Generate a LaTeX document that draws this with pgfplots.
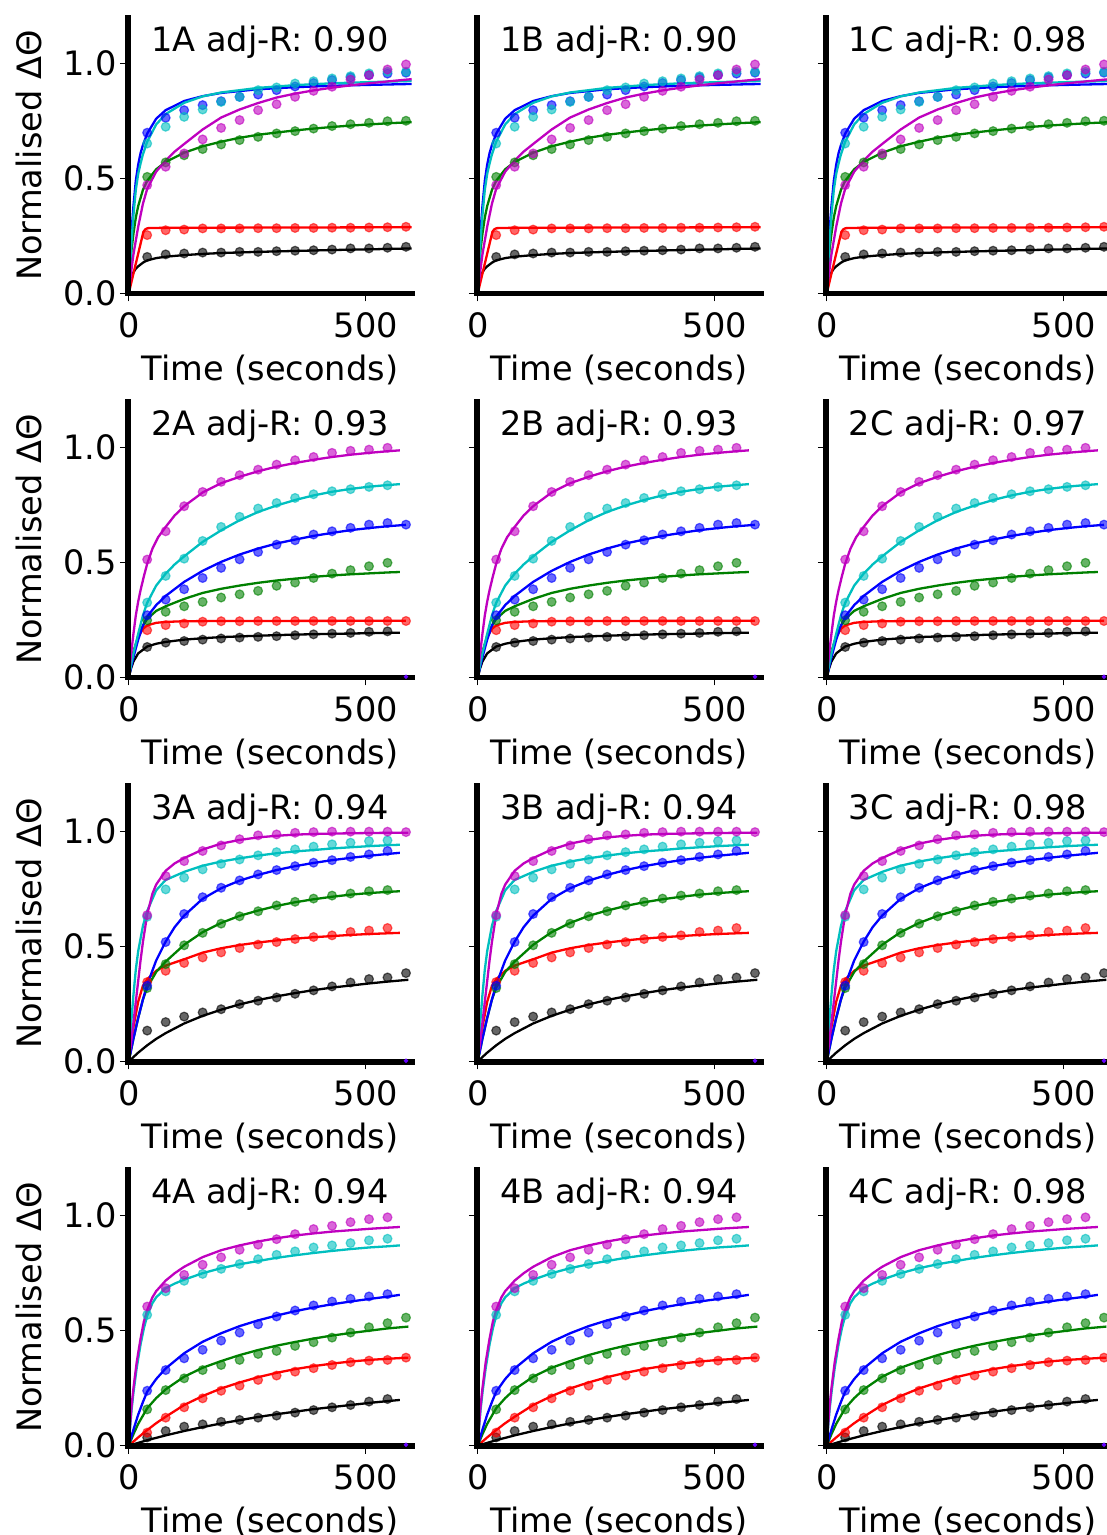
\documentclass[border=0pt]{standalone}
\usepackage{fontspec}
\setmainfont{DejaVu Sans}
\usepackage{pgfplots}
\pgfplotsset{compat=1.18}
\definecolor{mm}{rgb}{0.75,0,0.75}
\definecolor{mc}{rgb}{0,0.75,0.75}
\definecolor{mg}{rgb}{0,0.5,0}
\definecolor{mb}{rgb}{0,0,1}
\definecolor{mr}{rgb}{1,0,0}
\definecolor{mk}{rgb}{0,0,0}
\newcommand\dotset[2]{\addplot[only marks, mark=*, mark size=2.2pt, color=#1, mark options={fill=#1, draw=#1, opacity=0.6, line width=0.6pt}] coordinates {#2};}
\newcommand\fitline[2]{\addplot[color=#1, line width=1.15pt, mark=none] coordinates {#2};}
\newcommand\tinydot{\addplot[only marks, mark=*, mark size=0.9pt, color=blue!60!magenta] coordinates {(585,0.004)};}

% ---------------- Row 1 ----------------
\newcommand\rowOne{%
\dotset{mk}{(39,0.159)(78,0.170)(117,0.174)(156,0.178)(195,0.178)(234,0.181)(273,0.181)(312,0.184)(351,0.186)(390,0.188)(429,0.191)(468,0.196)(507,0.196)(546,0.199)(585,0.203)}
\dotset{mr}{(39,0.254)(78,0.275)(117,0.278)(156,0.283)(195,0.283)(234,0.283)(273,0.284)(312,0.284)(351,0.285)(390,0.285)(429,0.286)(468,0.286)(507,0.287)(546,0.288)(585,0.290)}
\dotset{mg}{(39,0.507)(78,0.570)(117,0.601)(156,0.628)(195,0.648)(234,0.667)(273,0.681)(312,0.696)(351,0.706)(390,0.717)(429,0.728)(468,0.736)(507,0.742)(546,0.749)(585,0.751)}
\dotset{mb}{(39,0.699)(78,0.764)(117,0.797)(156,0.819)(195,0.836)(234,0.855)(273,0.865)(312,0.884)(351,0.900)(390,0.915)(429,0.928)(468,0.940)(507,0.950)(546,0.956)(585,0.960)}
\dotset{mc}{(39,0.652)(78,0.725)(117,0.768)(156,0.800)(195,0.833)(234,0.855)(273,0.884)(312,0.896)(351,0.913)(390,0.923)(429,0.935)(468,0.945)(507,0.957)(546,0.964)(585,0.964)}
\dotset{mm}{(39,0.471)(78,0.551)(117,0.609)(156,0.670)(195,0.720)(234,0.754)(273,0.797)(312,0.823)(351,0.855)(390,0.881)(429,0.899)(468,0.930)(507,0.949)(546,0.974)(585,0.996)}
\fitline{mk}{(0,0)(3,0.04)(6,0.07)(10,0.092)(15,0.108)(20,0.118)(30,0.134)(39,0.144)(58,0.154)(78,0.160)(117,0.167)(156,0.172)(195,0.176)(273,0.181)(351,0.185)(429,0.189)(507,0.192)(597,0.196)}
\fitline{mr}{(0,0)(31,0.268)(35,0.279)(40,0.284)(50,0.285)(117,0.286)(351,0.287)(597,0.288)}
\fitline{mg}{(0,0)(3,0.11)(6,0.19)(10,0.26)(15,0.33)(20,0.38)(30,0.45)(39,0.49)(58,0.54)(78,0.572)(117,0.612)(156,0.64)(195,0.66)(234,0.677)(273,0.69)(312,0.70)(351,0.709)(390,0.717)(429,0.724)(468,0.73)(507,0.735)(546,0.74)(597,0.745)}
\fitline{mb}{(0,0)(3,0.15)(6,0.27)(10,0.38)(15,0.49)(20,0.56)(25,0.61)(30,0.645)(39,0.695)(58,0.76)(78,0.797)(117,0.837)(156,0.858)(195,0.872)(273,0.888)(351,0.897)(429,0.903)(507,0.907)(597,0.911)}
\fitline{mc}{(0,0)(3,0.12)(6,0.23)(10,0.34)(15,0.45)(20,0.52)(25,0.565)(30,0.605)(39,0.66)(58,0.735)(78,0.78)(117,0.829)(156,0.857)(195,0.874)(273,0.894)(351,0.906)(429,0.914)(507,0.919)(597,0.924)}
\fitline{mm}{(0,0)(5,0.09)(10,0.17)(20,0.29)(30,0.39)(39,0.455)(58,0.53)(78,0.578)(97,0.617)(117,0.65)(156,0.713)(195,0.765)(234,0.80)(273,0.828)(312,0.852)(351,0.869)(390,0.883)(429,0.895)(468,0.905)(507,0.914)(546,0.922)(597,0.932)}
}

% ---------------- Row 2 ----------------
\newcommand\rowTwo{%
\dotset{mk}{(39,0.133)(78,0.152)(117,0.159)(156,0.165)(195,0.170)(234,0.174)(273,0.177)(312,0.180)(351,0.184)(390,0.188)(429,0.191)(468,0.194)(507,0.199)(546,0.201)}
\dotset{mr}{(39,0.206)(78,0.228)(117,0.235)(156,0.243)(195,0.245)(234,0.245)(273,0.246)(312,0.246)(351,0.246)(390,0.246)(429,0.246)(468,0.246)(507,0.246)(546,0.246)(585,0.246)}
\dotset{mg}{(39,0.249)(78,0.286)(117,0.310)(156,0.329)(195,0.348)(234,0.362)(273,0.377)(312,0.399)(351,0.413)(390,0.433)(429,0.452)(468,0.467)(507,0.484)(546,0.499)}
\dotset{mb}{(39,0.271)(78,0.339)(117,0.384)(156,0.433)(195,0.477)(234,0.514)(273,0.546)(312,0.578)(351,0.597)(390,0.622)(429,0.636)(468,0.651)(507,0.665)(546,0.672)(585,0.665)}
\dotset{mc}{(39,0.326)(78,0.442)(117,0.517)(156,0.594)(195,0.655)(234,0.699)(273,0.735)(312,0.759)(351,0.781)(390,0.797)(429,0.810)(468,0.819)(507,0.829)(546,0.836)}
\dotset{mm}{(39,0.513)(78,0.636)(117,0.745)(156,0.807)(195,0.851)(234,0.880)(273,0.904)(312,0.926)(351,0.945)(390,0.959)(429,0.977)(468,0.986)(507,0.991)(546,0.999)}
\tinydot
\fitline{mk}{(0,0)(5,0.04)(10,0.07)(20,0.105)(39,0.135)(58,0.147)(78,0.155)(117,0.165)(156,0.171)(195,0.176)(273,0.182)(351,0.187)(429,0.19)(507,0.193)(572,0.195)}
\fitline{mr}{(0,0)(5,0.06)(10,0.11)(20,0.175)(30,0.212)(39,0.227)(58,0.238)(78,0.242)(117,0.245)(195,0.246)(585,0.247)}
\fitline{mg}{(0,0)(5,0.06)(10,0.11)(20,0.18)(30,0.225)(39,0.255)(58,0.29)(78,0.31)(117,0.342)(156,0.368)(195,0.386)(234,0.40)(273,0.412)(312,0.422)(351,0.43)(390,0.438)(429,0.444)(468,0.449)(507,0.453)(546,0.457)(572,0.459)}
\fitline{mb}{(0,0)(5,0.045)(10,0.088)(20,0.165)(30,0.225)(39,0.265)(58,0.315)(78,0.355)(117,0.416)(156,0.464)(195,0.503)(234,0.535)(273,0.561)(312,0.583)(351,0.60)(390,0.616)(429,0.629)(468,0.641)(507,0.65)(546,0.658)(585,0.664)}
\fitline{mc}{(0,0)(5,0.055)(10,0.105)(20,0.19)(30,0.27)(39,0.325)(58,0.40)(78,0.452)(97,0.492)(117,0.527)(156,0.59)(195,0.64)(234,0.684)(273,0.72)(312,0.748)(351,0.772)(390,0.792)(429,0.808)(468,0.82)(507,0.83)(546,0.837)(572,0.841)}
\fitline{mm}{(0,0)(3,0.06)(6,0.12)(10,0.19)(15,0.27)(20,0.33)(25,0.38)(32,0.44)(39,0.495)(50,0.56)(62,0.61)(78,0.655)(97,0.705)(117,0.745)(156,0.805)(195,0.845)(234,0.873)(273,0.897)(312,0.917)(351,0.933)(390,0.947)(429,0.959)(468,0.969)(507,0.977)(546,0.984)(572,0.988)}
}

% ---------------- Row 3 ----------------
\newcommand\rowThree{%
\dotset{mk}{(39,0.135)(78,0.172)(117,0.196)(156,0.214)(195,0.228)(234,0.250)(273,0.265)(312,0.279)(351,0.295)(390,0.310)(429,0.327)(468,0.344)(507,0.359)(546,0.366)(585,0.385)}
\dotset{mr}{(39,0.346)(78,0.395)(117,0.429)(156,0.453)(195,0.475)(234,0.494)(273,0.509)(312,0.520)(351,0.533)(390,0.542)(429,0.549)(468,0.564)(507,0.570)(546,0.581)}
\dotset{mg}{(39,0.320)(78,0.424)(117,0.506)(156,0.560)(195,0.600)(234,0.632)(273,0.654)(312,0.679)(351,0.695)(390,0.709)(429,0.722)(468,0.731)(507,0.741)(546,0.746)}
\dotset{mb}{(39,0.330)(78,0.520)(117,0.642)(156,0.715)(195,0.756)(234,0.788)(273,0.814)(312,0.833)(351,0.850)(390,0.865)(429,0.876)(468,0.890)(507,0.901)(546,0.916)}
\dotset{mc}{(39,0.630)(78,0.749)(117,0.800)(156,0.836)(195,0.860)(234,0.879)(273,0.897)(312,0.911)(351,0.923)(390,0.935)(429,0.945)(468,0.952)(507,0.959)(546,0.962)}
\dotset{mm}{(39,0.637)(78,0.807)(117,0.872)(156,0.916)(195,0.940)(234,0.967)(273,0.984)(312,0.988)(351,0.995)(390,0.998)(429,1.000)(468,1.000)(507,1.000)(546,1.000)(585,0.998)}
\tinydot
\fitline{mk}{(0,0)(10,0.020)(20,0.039)(39,0.071)(58,0.099)(78,0.124)(117,0.166)(156,0.199)(195,0.226)(234,0.249)(273,0.268)(312,0.284)(351,0.298)(390,0.311)(429,0.322)(468,0.331)(507,0.340)(546,0.348)(590,0.356)}
\fitline{mr}{(0,0)(5,0.08)(10,0.15)(20,0.26)(30,0.33)(39,0.358)(58,0.395)(78,0.418)(117,0.445)(156,0.474)(195,0.493)(234,0.507)(273,0.518)(312,0.527)(351,0.535)(390,0.541)(429,0.546)(468,0.551)(507,0.555)(546,0.558)(572,0.56)}
\fitline{mg}{(0,0)(5,0.05)(10,0.1)(20,0.19)(30,0.27)(39,0.322)(58,0.39)(78,0.435)(117,0.508)(156,0.563)(195,0.603)(234,0.634)(273,0.657)(312,0.677)(351,0.693)(390,0.706)(429,0.717)(468,0.726)(507,0.733)(546,0.738)(572,0.741)}
\fitline{mb}{(0,0)(5,0.05)(10,0.1)(20,0.19)(30,0.27)(39,0.335)(58,0.44)(78,0.522)(97,0.585)(117,0.635)(156,0.708)(195,0.754)(234,0.787)(273,0.812)(312,0.833)(351,0.85)(390,0.864)(429,0.876)(468,0.886)(507,0.895)(546,0.903)(572,0.908)}
\fitline{mc}{(0,0)(5,0.16)(10,0.29)(15,0.40)(20,0.48)(30,0.59)(39,0.655)(58,0.745)(78,0.79)(117,0.825)(156,0.852)(195,0.87)(234,0.884)(273,0.896)(312,0.906)(351,0.914)(390,0.92)(429,0.927)(468,0.932)(507,0.937)(546,0.941)(572,0.943)}
\fitline{mm}{(0,0)(5,0.08)(10,0.17)(15,0.26)(20,0.35)(25,0.44)(30,0.52)(39,0.64)(50,0.73)(58,0.77)(78,0.83)(97,0.862)(117,0.885)(156,0.922)(195,0.948)(234,0.964)(273,0.975)(312,0.982)(351,0.987)(390,0.99)(468,0.993)(546,0.995)(590,0.995)}
}

% ---------------- Row 4 ----------------
\newcommand\rowFour{%
\dotset{mk}{(39,0.036)(78,0.064)(117,0.083)(156,0.093)(195,0.104)(234,0.112)(273,0.122)(312,0.131)(351,0.144)(390,0.155)(429,0.167)(468,0.177)(507,0.192)(546,0.203)}
\dotset{mr}{(39,0.057)(78,0.122)(117,0.167)(156,0.206)(195,0.239)(234,0.261)(273,0.286)(312,0.305)(351,0.322)(390,0.337)(429,0.351)(468,0.363)(507,0.370)(546,0.373)(585,0.383)}
\dotset{mg}{(39,0.158)(78,0.242)(117,0.293)(156,0.329)(195,0.351)(234,0.373)(273,0.399)(312,0.412)(351,0.434)(390,0.450)(429,0.470)(468,0.492)(507,0.515)(546,0.533)(585,0.557)}
\dotset{mb}{(39,0.239)(78,0.329)(117,0.380)(156,0.417)(195,0.457)(234,0.492)(273,0.528)(312,0.562)(351,0.588)(390,0.610)(429,0.627)(468,0.639)(507,0.649)(546,0.659)}
\dotset{mc}{(39,0.569)(78,0.671)(117,0.717)(156,0.747)(195,0.769)(234,0.790)(273,0.811)(312,0.830)(351,0.845)(390,0.862)(429,0.871)(468,0.881)(507,0.893)(546,0.900)}
\dotset{mm}{(39,0.605)(78,0.685)(117,0.743)(156,0.787)(195,0.819)(234,0.852)(273,0.874)(312,0.898)(351,0.920)(390,0.942)(429,0.956)(468,0.972)(507,0.985)(546,0.993)}
\tinydot
\fitline{mk}{(0,0)(39,0.024)(78,0.045)(117,0.064)(156,0.081)(195,0.097)(234,0.111)(273,0.125)(312,0.137)(351,0.148)(390,0.159)(429,0.168)(468,0.177)(507,0.186)(546,0.194)(572,0.199)}
\fitline{mr}{(0,0)(10,0.018)(20,0.036)(39,0.068)(58,0.098)(78,0.126)(117,0.177)(156,0.216)(195,0.249)(234,0.275)(273,0.298)(312,0.317)(351,0.333)(390,0.346)(429,0.357)(468,0.366)(507,0.373)(546,0.378)(590,0.383)}
\fitline{mg}{(0,0)(5,0.025)(10,0.05)(20,0.095)(39,0.163)(58,0.207)(78,0.245)(117,0.3)(156,0.339)(195,0.368)(234,0.394)(273,0.416)(312,0.435)(351,0.451)(390,0.466)(429,0.479)(468,0.49)(507,0.5)(546,0.51)(590,0.518)}
\fitline{mb}{(0,0)(5,0.035)(10,0.07)(20,0.135)(30,0.19)(39,0.235)(58,0.29)(78,0.336)(117,0.402)(156,0.452)(195,0.489)(234,0.52)(273,0.545)(312,0.566)(351,0.585)(390,0.601)(429,0.615)(468,0.627)(507,0.638)(546,0.648)(572,0.656)}
\fitline{mc}{(0,0)(3,0.08)(6,0.155)(10,0.23)(17,0.34)(25,0.44)(32,0.51)(39,0.565)(50,0.62)(58,0.645)(78,0.685)(97,0.705)(117,0.722)(156,0.75)(195,0.772)(234,0.789)(273,0.803)(312,0.817)(351,0.828)(390,0.838)(429,0.847)(468,0.855)(507,0.862)(546,0.867)(572,0.871)}
\fitline{mm}{(0,0)(3,0.09)(6,0.17)(10,0.25)(17,0.365)(25,0.465)(32,0.54)(39,0.59)(50,0.645)(58,0.672)(78,0.718)(97,0.75)(117,0.778)(156,0.82)(195,0.85)(234,0.871)(273,0.888)(312,0.902)(351,0.914)(390,0.923)(429,0.931)(468,0.937)(507,0.943)(546,0.948)(572,0.951)}
}

\pgfplotsset{
  panel/.style={
    scale only axis, width=142.2pt, height=138pt,
    anchor=south west,
    xmin=-2, xmax=598, ymin=0, ymax=1.2,
    axis lines=left,
    axis line style={-, line width=2.85pt, line cap=rect},
    axis on top,
    tick align=outside,
    major tick length=3.9pt,
    tick style={black, line width=0.65pt},
    xtick={0,500}, xticklabels={0,500},
    ytick={0,0.5,1},
    /pgf/number format/assume math mode=true,
    tick label style={font=\fontsize{16.8}{20}\selectfont},
    label style={font=\fontsize{16.8}{20}\selectfont},
    xticklabel style={anchor=north, inner sep=0pt, yshift=-5.5pt},
    yticklabel style={anchor=east, inner sep=0pt, xshift=-1.5pt},
    title style={font=\fontsize{16.8}{20}\selectfont, at={(axis description cs:0.5,1)}, anchor=base, yshift=-23pt},
    xlabel={Time (seconds)},
    xlabel style={at={(axis description cs:0.5,0)}, anchor=base, yshift=-43.5pt},
  },
  panelA/.style={panel, yticklabels={0.0,0.5,1.0}, ylabel={Normalised ΔΘ},
    ylabel style={at={(axis description cs:-0.3024,0.5)}, anchor=base}},
  panelB/.style={panel, yticklabels={}},
}

\begin{document}
\begin{tikzpicture}
% row 1
\begin{axis}[panelA, at={(63.875pt,-146.75pt)}, title={1A adj-R: 0.90}] \rowOne \end{axis}
\begin{axis}[panelB, at={(238.375pt,-146.75pt)}, title={1B adj-R: 0.90}] \rowOne \end{axis}
\begin{axis}[panelB, at={(412.875pt,-146.75pt)}, title={1C adj-R: 0.98}] \rowOne \end{axis}
% row 2
\begin{axis}[panelA, at={(63.875pt,-338.785pt)}, title={2A adj-R: 0.93}] \rowTwo \end{axis}
\begin{axis}[panelB, at={(238.375pt,-338.785pt)}, title={2B adj-R: 0.93}] \rowTwo \end{axis}
\begin{axis}[panelB, at={(412.875pt,-338.785pt)}, title={2C adj-R: 0.97}] \rowTwo \end{axis}
% row 3
\begin{axis}[panelA, at={(63.875pt,-530.82pt)}, title={3A adj-R: 0.94}] \rowThree \end{axis}
\begin{axis}[panelB, at={(238.375pt,-530.82pt)}, title={3B adj-R: 0.94}] \rowThree \end{axis}
\begin{axis}[panelB, at={(412.875pt,-530.82pt)}, title={3C adj-R: 0.98}] \rowThree \end{axis}
% row 4
\begin{axis}[panelA, at={(63.875pt,-722.855pt)}, title={4A adj-R: 0.94}] \rowFour \end{axis}
\begin{axis}[panelB, at={(238.375pt,-722.855pt)}, title={4B adj-R: 0.94}] \rowFour \end{axis}
\begin{axis}[panelB, at={(412.875pt,-722.855pt)}, title={4C adj-R: 0.98}] \rowFour \end{axis}
\pgfresetboundingbox
\useasboundingbox (0,0) rectangle (553.5pt,-767.5pt);
\end{tikzpicture}
\end{document}
